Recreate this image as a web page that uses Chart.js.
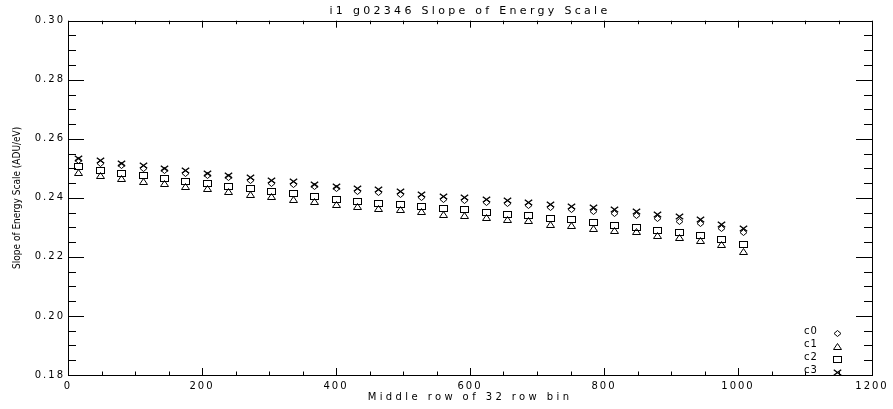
<!DOCTYPE html>
<html>
<head>
<meta charset="utf-8">
<script src="https://cdn.jsdelivr.net/npm/chart.js@4.4.1/dist/chart.umd.min.js"></script>
<style>
  html, body { margin: 0; padding: 0; background: #fff; }
  #wrap { width: 893px; height: 409px; }
</style>
</head>
<body>
<div id="wrap"><canvas id="c" width="893" height="409"></canvas></div>
<script>
// ---- data ----
const rowMid = [16, 48, 80, 112, 144, 176, 208, 240, 272, 304, 336, 368, 400, 432, 464, 496,
                528, 560, 592, 624, 656, 688, 720, 752, 784, 816, 848, 880, 912, 944, 976, 1008];
const c0 = [0.2527,0.2518,0.2510,0.2501,0.2493,0.2484,0.2476,0.2468,0.2460,0.2450,0.2446,0.2438,0.2430,0.2422,0.2419,0.2413,
            0.2402,0.2394,0.2391,0.2385,0.2380,0.2375,0.2366,0.2360,0.2354,0.2346,0.2340,0.2331,0.2321,0.2312,0.2296,0.2281];
const c1 = [0.2487,0.2475,0.2464,0.2455,0.2447,0.2438,0.2430,0.2421,0.2412,0.2404,0.2395,0.2387,0.2379,0.2370,0.2365,0.2359,
            0.2353,0.2345,0.2340,0.2334,0.2327,0.2322,0.2310,0.2306,0.2297,0.2291,0.2285,0.2274,0.2265,0.2254,0.2243,0.2219];
const c2 = [0.2506,0.2494,0.2483,0.2475,0.2466,0.2455,0.2447,0.2440,0.2432,0.2423,0.2414,0.2404,0.2395,0.2389,0.2382,0.2376,
            0.2370,0.2365,0.2359,0.2351,0.2344,0.2339,0.2331,0.2325,0.2317,0.2306,0.2300,0.2291,0.2282,0.2274,0.2259,0.2241];
const c3 = [0.2534,0.2525,0.2517,0.2508,0.2500,0.2491,0.2483,0.2475,0.2468,0.2458,0.2454,0.2446,0.2438,0.2430,0.2427,0.2421,
            0.2412,0.2404,0.2401,0.2395,0.2390,0.2385,0.2376,0.2370,0.2367,0.2359,0.2353,0.2344,0.2336,0.2327,0.2311,0.2296];
const seriesNames = ['c0', 'c1', 'c2', 'c3'];
const titleText = 'i1 g02346 Slope of Energy Scale';
const xTitle = 'Middle row of 32 row bin';
const yTitle = 'Slope of Energy Scale (ADU/eV)';
const xTickStep = 200, xMinorStep = 50, xMin = 0, xMax = 1200;
const yTickStep = 0.02, yMinorStep = 0.005, yMin = 0.18, yMax = 0.30;

// ---- marker images (IDL-like symbols) ----
function mk(drawFn) {
  const cv = document.createElement('canvas');
  cv.width = 9; cv.height = 7;
  const g = cv.getContext('2d');
  g.strokeStyle = '#000'; g.lineWidth = 1;
  drawFn(g);
  return cv;
}
const mDiamond = mk(g => { g.beginPath(); g.moveTo(4.5,0.5); g.lineTo(8,3.5); g.lineTo(4.5,6.5); g.lineTo(1,3.5); g.closePath(); g.stroke(); });
const mTri = mk(g => { g.beginPath(); g.moveTo(4.5,0.5); g.lineTo(8.5,6.5); g.lineTo(0.5,6.5); g.closePath(); g.stroke(); });
const mSq = mk(g => { g.strokeRect(0.5,0.5,8,6); });
const mX = mk(g => { g.lineWidth = 1.4; g.beginPath(); g.moveTo(0.8,0.8); g.lineTo(8.2,6.2); g.moveTo(8.2,0.8); g.lineTo(0.8,6.2); g.stroke(); });
const markers = [mDiamond, mTri, mSq, mX];

function pts(ys) { return rowMid.map((x, i) => ({ x: x, y: ys[i] })); }
const allSeries = [c0, c1, c2, c3];

const datasets = allSeries.map((ys, i) => ({
  label: seriesNames[i],
  data: pts(ys),
  showLine: false,
  pointStyle: markers[i],
  pointRadius: 4,
  pointHoverRadius: 4,
  borderColor: '#000',
  backgroundColor: '#000'
}));

function wrapSpacing(obj, fn, sp) {
  if (!obj || obj['_ls_' + fn]) return;
  const orig = obj[fn];
  obj[fn] = function (...a) {
    const c = this.ctx;
    const prev = c.letterSpacing;
    c.letterSpacing = sp;
    const r = orig.apply(this, a);
    c.letterSpacing = prev;
    return r;
  };
  obj['_ls_' + fn] = true;
}

const idlPlugin = {
  id: 'idl',
  afterLayout(chart) {
    wrapSpacing(chart.scales.x, 'drawLabels', '2px');
    wrapSpacing(chart.scales.y, 'drawLabels', '2px');
    wrapSpacing(chart.scales.x, 'drawTitle', '3.4px');
    wrapSpacing(chart.scales.y, 'drawTitle', '0px');
    wrapSpacing(chart.titleBlock, 'draw', '3.3px');
  },
  beforeDatasetsDraw(chart) {
    chart.ctx.imageSmoothingEnabled = false;
  },
  afterDraw(chart) {
    const ctx = chart.ctx;
    const a = chart.chartArea;
    const xs = chart.scales.x, ys = chart.scales.y;
    ctx.save();
    ctx.strokeStyle = '#000';
    ctx.lineWidth = 1;
    // frame
    ctx.strokeRect(Math.round(a.left) + 0.5, Math.round(a.top) + 0.5,
                   Math.round(a.right - a.left), Math.round(a.bottom - a.top));
    ctx.beginPath();
    // y ticks (left & right, inward)
    const yMajLen = 16, yMinLen = 8;
    for (let k = 0; k <= Math.round((yMax - yMin) / yMinorStep); k++) {
      const v = yMin + k * yMinorStep;
      const major = Math.abs(((v - yMin) / yTickStep) - Math.round((v - yMin) / yTickStep)) < 1e-6;
      const len = major ? yMajLen : yMinLen;
      const py = Math.round(ys.getPixelForValue(v)) + 0.5;
      ctx.moveTo(a.left, py); ctx.lineTo(a.left + len, py);
      ctx.moveTo(a.right, py); ctx.lineTo(a.right - len, py);
    }
    // x ticks (bottom & top, inward)
    const xMajLen = 7, xMinLen = 3.5;
    for (let v = xMin; v <= xMax; v += xMinorStep) {
      const major = v % xTickStep === 0;
      const len = major ? xMajLen : xMinLen;
      const px = Math.round(xs.getPixelForValue(v)) + 0.5;
      ctx.moveTo(px, a.bottom); ctx.lineTo(px, a.bottom - len);
      ctx.moveTo(px, a.top); ctx.lineTo(px, a.top + len);
    }
    ctx.stroke();
    // legend (bottom-right, inside plot)
    ctx.imageSmoothingEnabled = false;
    ctx.fillStyle = '#000';
    ctx.font = '10px "DejaVu Sans"';
    ctx.letterSpacing = '1px';
    ctx.textAlign = 'left';
    ctx.textBaseline = 'middle';
    chart.data.datasets.forEach((ds, i) => {
      const yy = a.bottom - 44 + i * 13;
      ctx.fillText(ds.label, a.right - 68, yy);
      const m = ds.pointStyle;
      ctx.drawImage(m, Math.round(a.right - 35 - m.width / 2), Math.round(yy + 2 - m.height / 2));
    });
    ctx.restore();
  }
};

new Chart(document.getElementById('c'), {
  type: 'scatter',
  data: { datasets },
  options: {
    responsive: false,
    animation: false,
    events: [],
    layout: { padding: { left: 0, right: 21, top: 0, bottom: 0 } },
    plugins: {
      legend: { display: false },
      tooltip: { enabled: false },
      title: {
        display: true,
        text: titleText,
        fullSize: false,
        color: '#000',
        font: { family: 'DejaVu Sans', size: 11, weight: 'normal' },
        padding: { top: 5, bottom: 2.5 }
      }
    },
    scales: {
      x: {
        type: 'linear',
        min: xMin, max: xMax,
        grid: { display: false, drawTicks: false },
        border: { display: false },
        ticks: {
          stepSize: xTickStep, color: '#000', padding: 5,
          font: { family: 'DejaVu Sans', size: 10 },
          maxRotation: 0,
          callback: v => String(v)
        },
        title: {
          display: true, text: xTitle, color: '#000',
          font: { family: 'DejaVu Sans', size: 10 },
          padding: { top: 0, bottom: 6 }
        },
        afterFit: s => { s.height = 34; }
      },
      y: {
        type: 'linear',
        min: yMin, max: yMax,
        grid: { display: false, drawTicks: false },
        border: { display: false },
        ticks: {
          stepSize: yTickStep, color: '#000', padding: 3,
          font: { family: 'DejaVu Sans', size: 10 },
          callback: v => Number(v).toFixed(2)
        },
        title: {
          display: true, text: yTitle, color: '#000',
          font: { family: '"Liberation Sans Narrow", "DejaVu Sans Condensed", "Liberation Sans"', size: 10 },
          padding: { top: 11, bottom: 0 }
        },
        afterFit: s => { s.width = 68; }
      }
    }
  },
  plugins: [idlPlugin]
});
</script>
</body>
</html>
